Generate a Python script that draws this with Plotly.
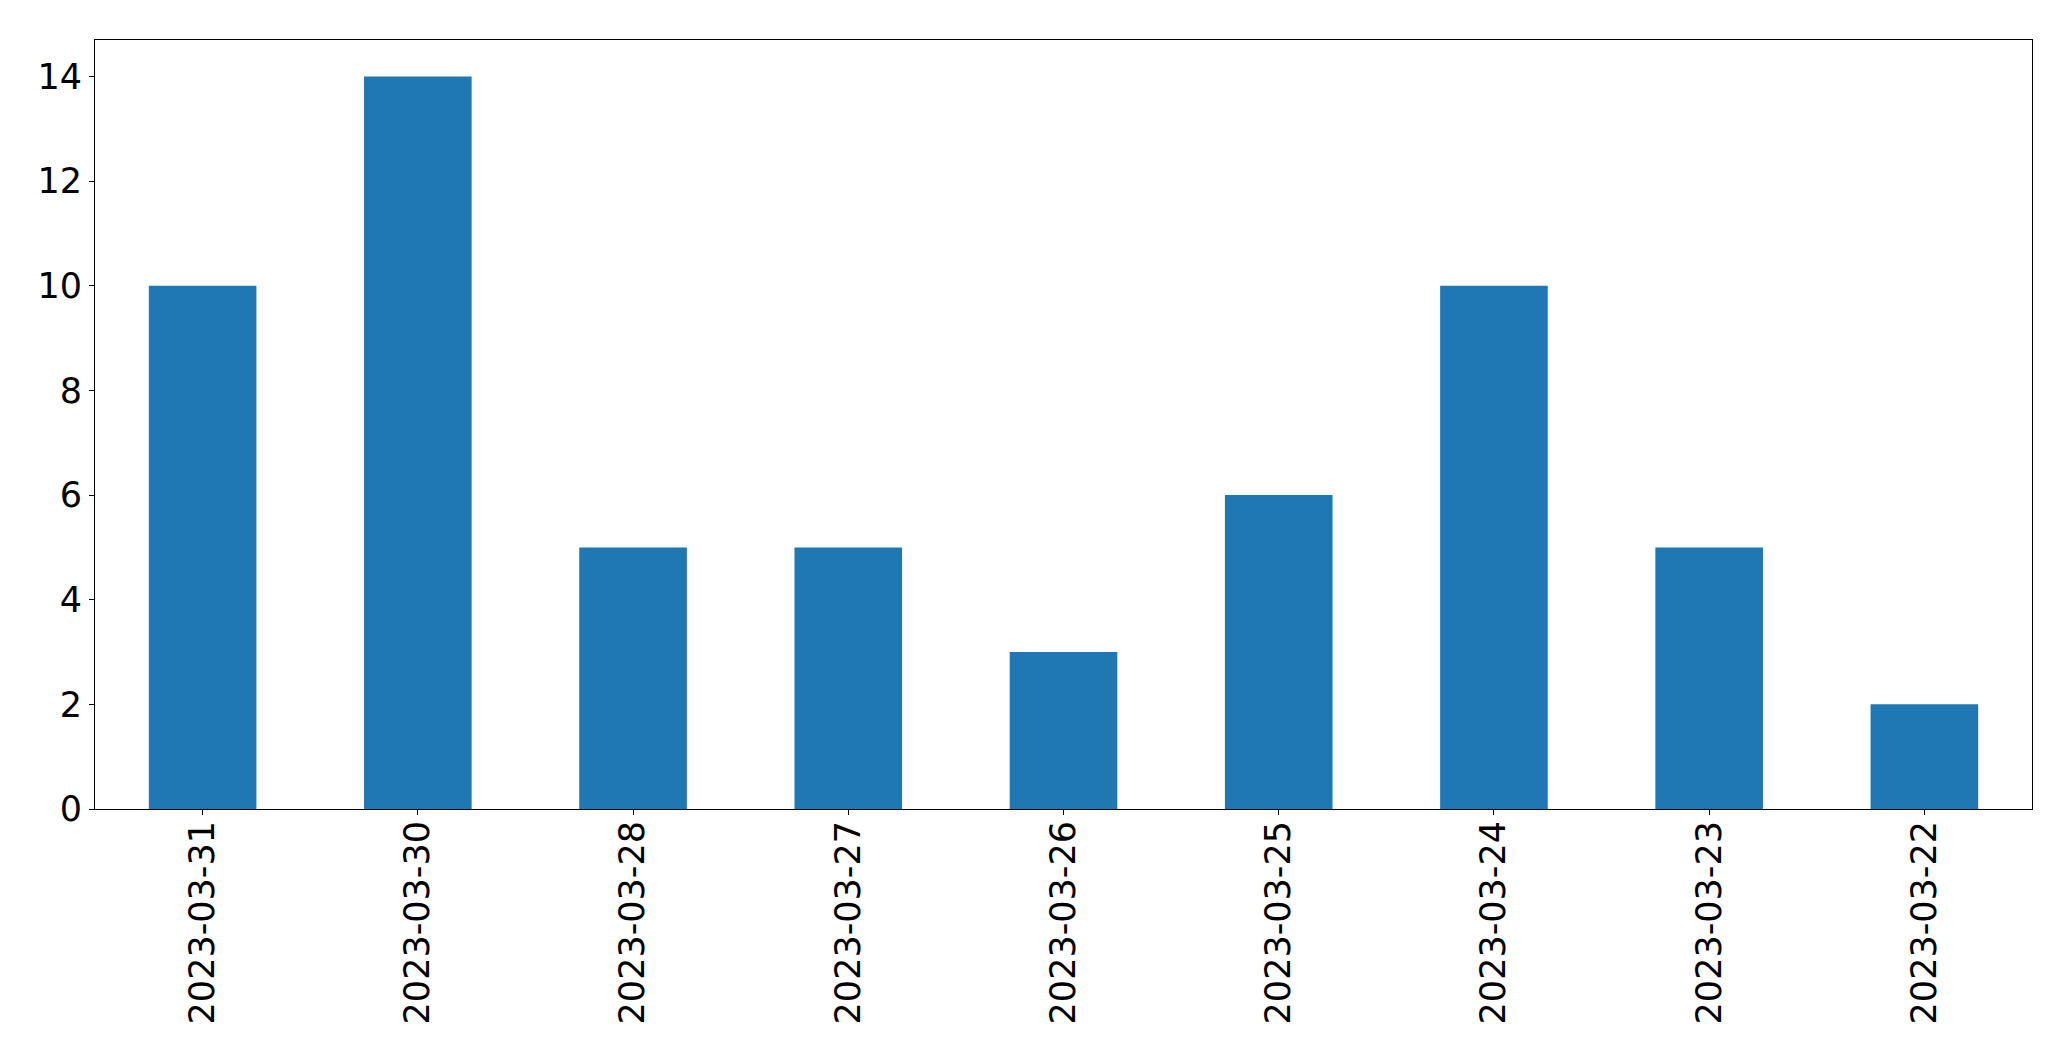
import plotly.graph_objects as go

dates = ["2023-03-31", "2023-03-30", "2023-03-28", "2023-03-27", "2023-03-26",
         "2023-03-25", "2023-03-24", "2023-03-23", "2023-03-22"]
counts = [10, 14, 5, 5, 3, 6, 10, 5, 2]
y_ticks = [0, 2, 4, 6, 8, 10, 12, 14]

fig = go.Figure(go.Bar(x=dates, y=counts, width=0.5, marker=dict(color="#1f77b4", line=dict(width=0))))

font = dict(family="DejaVu Sans", size=35, color="black")
# page body has an 8px margin; compensate so the plot area lands where it should
fig.update_layout(
    width=2063, height=1053,
    margin=dict(l=86.5, r=38.7, t=31.5, b=252, pad=0),
    plot_bgcolor="white", paper_bgcolor="white",
    showlegend=False, font=font,
)
fig.update_xaxes(
    type="category", range=[-0.5, 8.5], tickangle=-90,
    showline=True, linecolor="black", linewidth=1, mirror=True,
    ticks="outside", ticklen=5, tickwidth=1, tickcolor="black",
    showgrid=False, zeroline=False, tickfont=font, ticklabelstandoff=-8,
)
fig.update_yaxes(
    range=[0, 14.7], tickvals=y_ticks,
    showline=True, linecolor="black", linewidth=1, mirror=True,
    ticks="outside", ticklen=5, tickwidth=1, tickcolor="black",
    showgrid=False, zeroline=False, tickfont=font, ticklabelstandoff=0,
)
fig.write_html("out.html")
